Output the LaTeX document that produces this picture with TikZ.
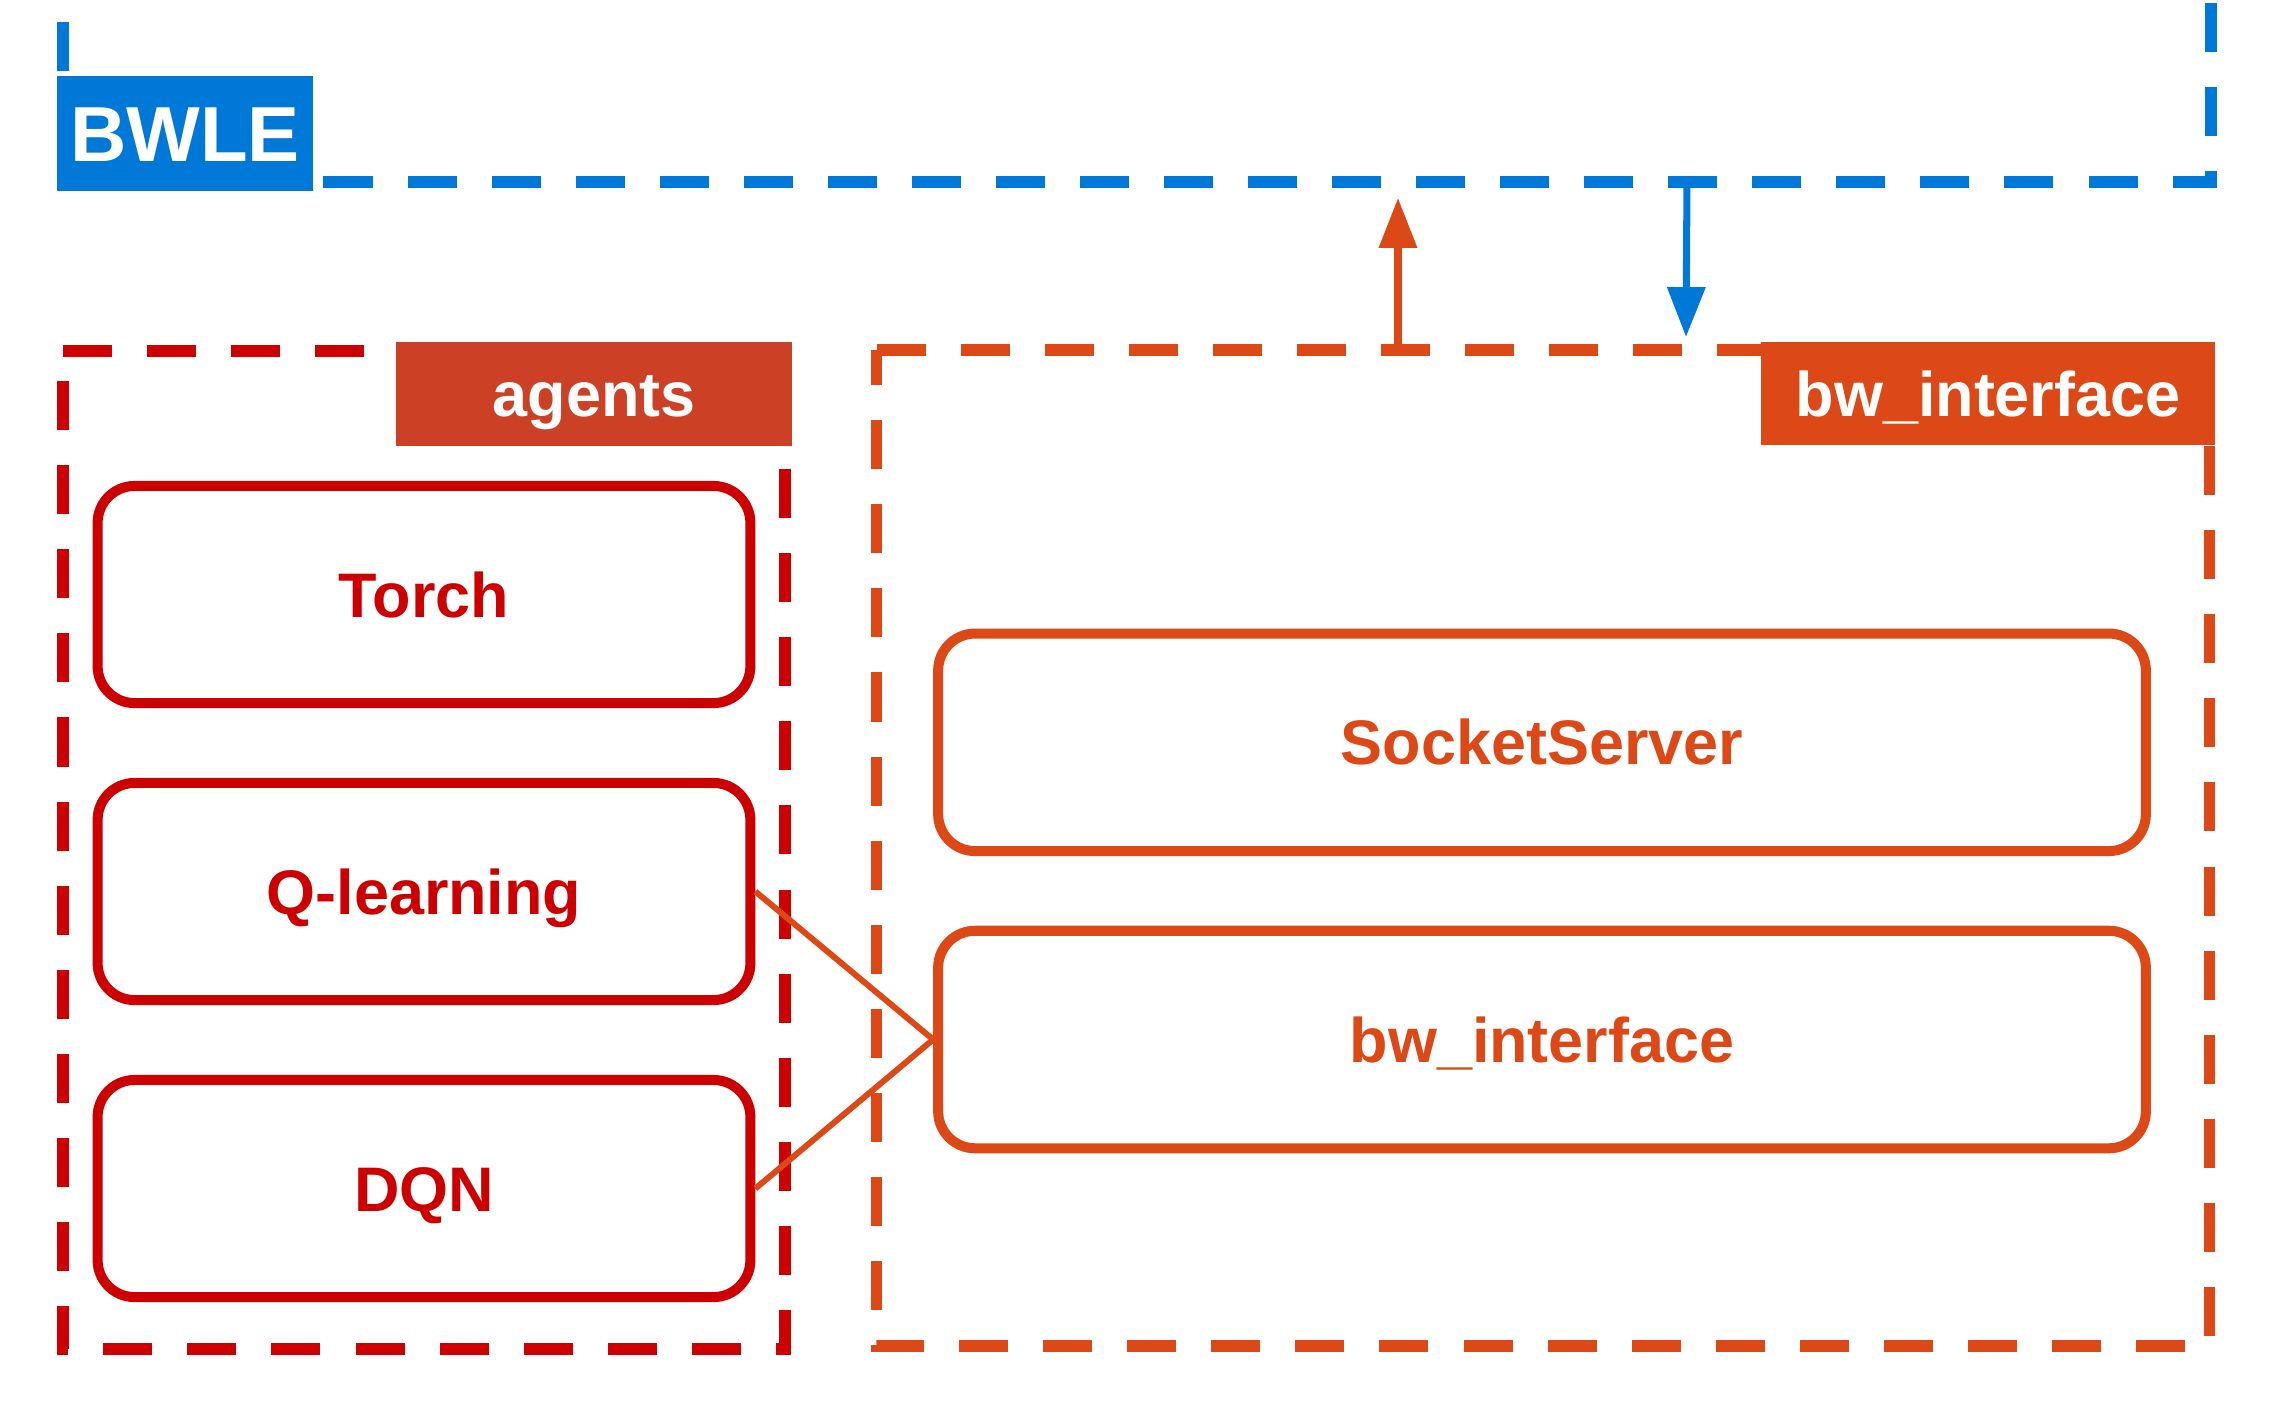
\documentclass[tikz,border=0pt]{standalone}
\usepackage{fontspec}
\setmainfont{Liberation Sans}
\usetikzlibrary{arrows.meta,calc}
\definecolor{cblue}{RGB}{0,120,215}
\definecolor{cred}{RGB}{204,0,0}
\definecolor{cagent}{RGB}{204,65,37}
\definecolor{corange}{RGB}{220,73,23}
\tikzset{
  framenode/.style={inner sep=0pt, outer sep=0pt},
  dashframe/.style={line width=3.33pt, dash pattern=on 13.94pt off 9.96pt},
  txt/.style={font=\bfseries\fontsize{17.9pt}{20pt}\selectfont, text height=12.8pt, text depth=0pt},
  labelbox/.style={txt, inner sep=0pt, outer sep=0pt, text=white},
  itembox/.style={txt, draw, line width=2.85pt, rounded corners=10.5pt, fill=white, inner sep=0pt},
  conn/.style={draw=corange, line width=1.7pt},
  arr/.style={line width=2pt, -{Triangle[length=14.2pt,width=10.5pt]}},
}
\begin{document}
\begin{tikzpicture}[x=0.01cm, y=-0.01cm]
\useasboundingbox (0,0) rectangle (2278,1408);
\clip (0,0) rectangle (2278,1408);
\fill[white] (0,0) rectangle (2278,1408);

% frames (invisible nodes)
\node[framenode, minimum width=7.22cm, minimum height=9.975cm] (agentsframe) at (424,850.25) {};
\node[framenode, minimum width=13.32cm, minimum height=9.955cm] (bwiframe) at (1543,848.25) {};

% BWLE frame corners
\coordinate (bwleTRtop) at (2211,-80.7);
\coordinate (bwleBR) at (2211,182);
\coordinate (bwleBL) at (63,182);
\coordinate (bwleTLtop) at (63,-100);

\draw[cblue, dashframe] (bwleTRtop) -- (bwleBR) -- (bwleBL) -- (bwleTLtop);
\draw[cred, dashframe] (agentsframe.north west) -- (agentsframe.north east) -- (agentsframe.south east) -- (agentsframe.south west) -- cycle;
\draw[corange, dashframe] (bwiframe.north west) -- (bwiframe.north east) -- (bwiframe.south east) -- (bwiframe.south west) -- cycle;

% labels
\node[labelbox, fill=cblue, minimum width=2.56cm, minimum height=1.14cm,
      font=\bfseries\fontsize{22.2pt}{24pt}\selectfont, text height=15.9pt] (bwle) at (185,133.5) {BWLE};
\node[labelbox, fill=cagent, minimum width=3.95cm, minimum height=1.04cm] (agentslabel) at (594,394) {agents};
\node[labelbox, fill=corange, minimum width=4.53cm, minimum height=1.03cm] (bwilabel) at (1988,393.5) {bw\_interface};

% agent items
\node[itembox, draw=cred, text=cred, minimum width=6.524cm, minimum height=2.17cm] (torch) at (424,594.5) {Torch};
\node[itembox, draw=cred, text=cred, minimum width=6.524cm, minimum height=2.17cm] (qlearn) at (424,891.5) {Q-learning};
\node[itembox, draw=cred, text=cred, minimum width=6.524cm, minimum height=2.17cm] (dqn) at (424,1188.5) {DQN};

% interface items
\node[itembox, draw=corange, text=corange, minimum width=12.07cm, minimum height=2.174cm] (socket) at (1542,742.3) {SocketServer};
\node[itembox, draw=corange, text=corange, minimum width=12.07cm, minimum height=2.174cm] (bwi) at (1542,1039.5) {bw\_interface};

% connectors
\draw[conn] (qlearn.east) -- (bwi.west);
\draw[conn] (dqn.east) -- (bwi.west);

% arrows between frames
\coordinate (upTip) at (1398,198);
\coordinate (downStart) at (1687,182);
\coordinate (downTip) at (1686,337);
\draw[arr, corange] (upTip |- bwiframe.north) -- (upTip);
\draw[arr, cblue] (downStart) -- (downTip);
\end{tikzpicture}
\end{document}
